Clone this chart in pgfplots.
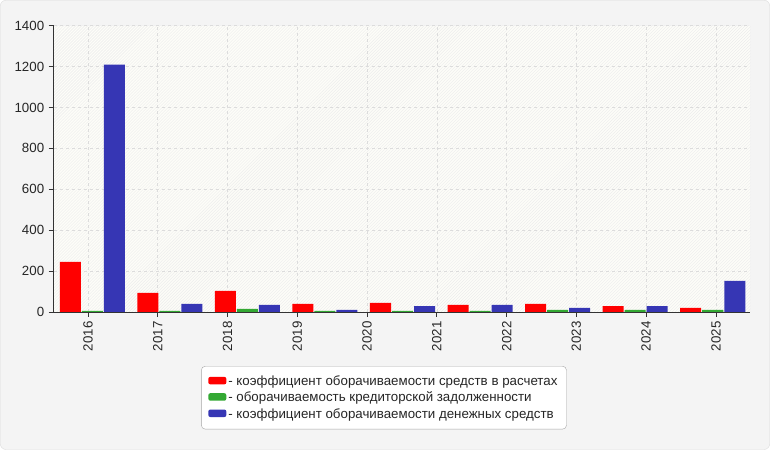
\documentclass[border=0pt]{standalone}
\usepackage{pgfplots}
\pgfplotsset{compat=1.18}
\usepackage{fontspec}
\setmainfont{Liberation Sans}
\usetikzlibrary{patterns}
\definecolor{cred}{RGB}{255,0,0}
\definecolor{cgreen}{RGB}{51,168,51}
\definecolor{cblue}{RGB}{54,54,180}
\definecolor{bg}{RGB}{244,244,244}
\definecolor{plotbg}{RGB}{253,253,248}
\definecolor{gridc}{RGB}{220,220,220}
\definecolor{hatch}{RGB}{236,236,236}
\begin{document}
\begin{tikzpicture}[x=1pt,y=1pt]
\fill[rounded corners=6pt, bg, draw=gridc] (0.5,0.5) rectangle (769.5,449.5);
\begin{axis}[
  at={(54pt,138pt)}, anchor=south west,
  scale only axis, width=696pt, height=286pt,
  xmin=-0.497, xmax=8.484, ymin=0, ymax=1400,
  ytick={0,200,...,1400},
  xtick={-0.054,0.845,1.745,2.644,3.544,4.443,5.343,6.242,7.141,8.041},
  xticklabels={2016,2017,2018,2019,2020,2021,2022,2023,2024,2025},
  x tick label style={rotate=90, anchor=east, xshift=-1pt},
  y tick label style={xshift=-1pt},
  tick label style={font=\fontsize{13.3}{15}\selectfont, text=black!85},
  /pgf/number format/assume math mode=true,
  /pgf/number format/1000 sep={},
  axis line style={black!80, line width=0.8pt},
  axis x line*=bottom, axis y line*=left,
  tick align=outside, major tick length=5pt,
  tick style={black!80, line width=0.8pt},
  grid=major, major grid style={gridc, dashed, line width=0.7pt},
  axis background/.style={fill=plotbg, postaction={pattern=north east lines, pattern color=hatch}},
  ybar, bar width=0.271,
  legend style={at={(0.474,-0.189)}, anchor=north, draw=black!35, rounded corners=4pt,
    fill=white, font=\fontsize{13.3}{16}\selectfont, text=black!85,
    inner xsep=7pt, inner ysep=7.5pt, row sep=1pt},
  legend cell align=left,
  legend image code/.code={\fill[#1, rounded corners=2pt] (0pt,-3pt) rectangle (18pt,4.5pt);},
]
\addplot[fill=cred, draw=none, bar shift=-0.284] coordinates {
 (0,245) (1,93) (2,103) (3,39) (4,44) (5,34) (6,39) (7,29) (8,20)};
\addplot[fill=cgreen, draw=none, bar shift=0] coordinates {
 (0,5) (1,5) (2,15) (3,5) (4,5) (5,5) (6,10) (7,10) (8,10)};
\addplot[fill=cblue, draw=none, bar shift=0.284] coordinates {
 (0,1210) (1,39) (2,34) (3,10) (4,29) (5,34) (6,20) (7,29) (8,152)};
\legend{- коэффициент оборачиваемости средств в расчетах,
        - оборачиваемость кредиторской задолженности,
        - коэффициент оборачиваемости денежных средств}
\end{axis}
\end{tikzpicture}
\end{document}
